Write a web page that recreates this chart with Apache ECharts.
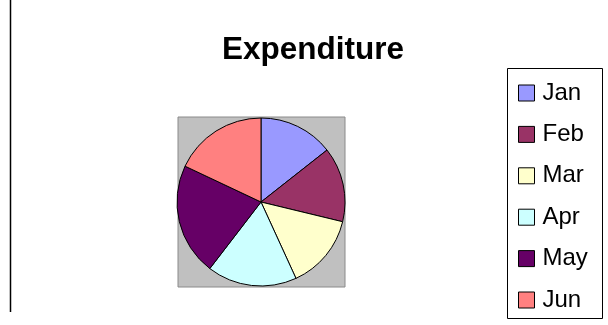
<!DOCTYPE html>
<html>
<head>
<meta charset="utf-8">
<style>
  html, body { margin: 0; padding: 0; background: #ffffff; }
  #chart { width: 608px; height: 325px; }
</style>
<script src="https://cdn.jsdelivr.net/npm/echarts@6/dist/echarts.min.js"></script>
</head>
<body>
<div id="chart"></div>
<script>
// Monthly expenditure
const months = ['Jan', 'Feb', 'Mar', 'Apr', 'May', 'Jun'];
const expenditure = [100, 100, 100, 120, 150, 125];
const sliceColors = ['#9999FF', '#993366', '#FFFFCC', '#CCFFFF', '#660066', '#FF8080'];

const chart = echarts.init(document.getElementById('chart'), null, { renderer: 'canvas' });

const pieData = months.map((m, i) => ({
  name: m,
  value: expenditure[i],
  itemStyle: { color: sliceColors[i] }
}));

chart.setOption({
  animation: false,
  backgroundColor: '#ffffff',
  title: {
    text: 'Expenditure',
    left: 313,
    top: 34,
    textAlign: 'center',
    padding: 0,
    textStyle: {
      fontFamily: 'Liberation Sans, Arial, sans-serif',
      fontWeight: 'bold',
      fontSize: 31.5,
      color: '#000000'
    }
  },
  legend: {
    orient: 'vertical',
    left: 518,
    top: 81,
    padding: 0,
    itemWidth: 16,
    itemHeight: 16,
    itemGap: 17.4,
    icon: 'rect',
    selectedMode: false,
    itemStyle: { borderColor: '#000000', borderWidth: 1 },
    textStyle: {
      fontFamily: 'Liberation Sans, Arial, sans-serif',
      fontSize: 24,
      color: '#000000',
      lineHeight: 24,
      padding: [0, 0, 0, 3]
    },
    data: months
  },
  graphic: [
    // plot area backdrop behind the pie
    {
      type: 'rect',
      z: -10,
      shape: { x: 178, y: 117, width: 167, height: 170 },
      style: { fill: '#C0C0C0', stroke: '#8a8a8a', lineWidth: 1 }
    },
    // legend frame
    {
      type: 'rect',
      z: -10,
      shape: { x: 507.5, y: 68.5, width: 95, height: 250 },
      style: { fill: 'none', stroke: '#000000', lineWidth: 1 }
    },
    // left margin rule
    {
      type: 'line',
      z: -10,
      shape: { x1: 10.5, y1: 0, x2: 10.5, y2: 312 },
      style: { stroke: '#000000', lineWidth: 1.5 }
    }
  ],
  series: [{
    type: 'pie',
    center: [261, 202],
    radius: 84,
    startAngle: 90,
    clockwise: true,
    label: { show: false },
    labelLine: { show: false },
    emphasis: { disabled: true },
    itemStyle: { borderColor: '#000000', borderWidth: 1 },
    data: pieData
  }]
});
</script>
</body>
</html>
